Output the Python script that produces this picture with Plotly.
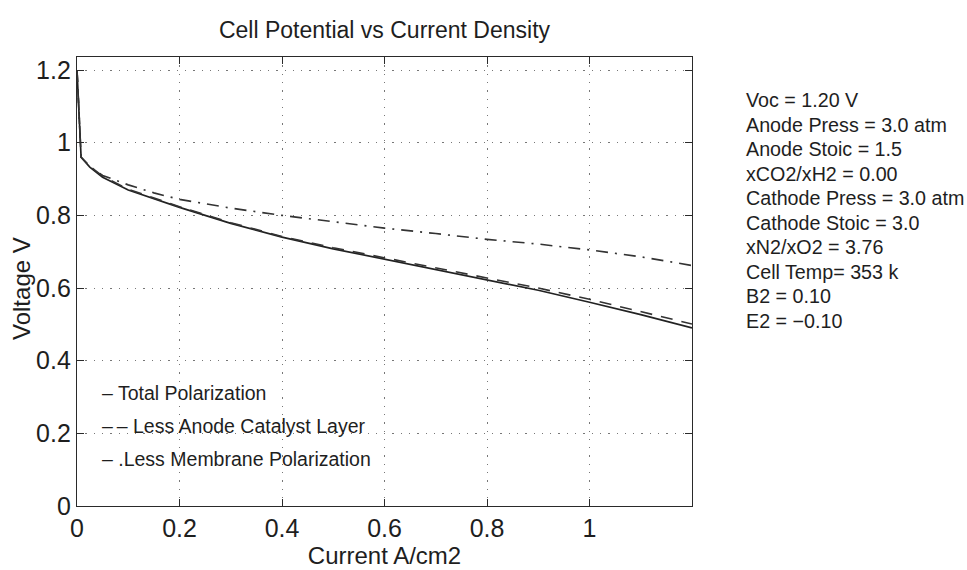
import plotly.graph_objects as go

# Polarization curves: cell voltage (V) against current density (A/cm2)
current = [0.0, 0.008, 0.025, 0.05, 0.1, 0.15, 0.2, 0.3, 0.4, 0.5,
           0.6, 0.7, 0.8, 0.9, 1.0, 1.1, 1.2]
total_polarization = [1.2, 0.96, 0.933, 0.905, 0.870, 0.845, 0.822, 0.778,
                      0.740, 0.708, 0.680, 0.652, 0.624, 0.594, 0.561, 0.527, 0.490]
less_anode_catalyst = [1.2, 0.96, 0.935, 0.908, 0.872, 0.847, 0.824, 0.780,
                       0.742, 0.711, 0.683, 0.656, 0.629, 0.600, 0.569, 0.536, 0.501]
less_membrane = [1.2, 0.96, 0.935, 0.910, 0.884, 0.862, 0.844, 0.820,
                 0.800, 0.782, 0.765, 0.750, 0.734, 0.721, 0.705, 0.686, 0.662]

x_ticks = [0, 0.2, 0.4, 0.6, 0.8, 1.0]
x_tick_labels = ["0", "0.2", "0.4", "0.6", "0.8", "1"]
y_ticks = [0, 0.2, 0.4, 0.6, 0.8, 1.0, 1.2]
y_tick_labels = ["0", "0.2", "0.4", "0.6", "0.8", "1", "1.2"]

legend_lines = ["\u2013 Total Polarization",
                "\u2013\u2009\u2013 Less Anode Catalyst Layer",
                "\u2013 .Less Membrane Polarization"]

parameters = ["Voc = 1.20 V", "Anode Press = 3.0 atm", "Anode Stoic = 1.5",
              "xCO2/xH2 = 0.00", "Cathode Press = 3.0 atm", "Cathode Stoic = 3.0",
              "xN2/xO2 = 3.76", "Cell Temp= 353 k", "B2 = 0.10", "E2 = \u22120.10"]

FONT = "Liberation Sans, Arial, sans-serif"
INK = "#1e1e1e"

W, H = 967, 570
L, R, T, B = 77, 275, 57, 64
pw, ph = W - L - R, H - T - B

fig = go.Figure()
fig.add_trace(go.Scatter(x=current, y=total_polarization, mode="lines",
                         line=dict(color="#222222", width=1.7),
                         name="Total Polarization", showlegend=False))
fig.add_trace(go.Scatter(x=current, y=less_anode_catalyst, mode="lines",
                         line=dict(color="#333333", width=1.6, dash="12px,9px"),
                         name="Less Anode Catalyst Layer", showlegend=False))
fig.add_trace(go.Scatter(x=current, y=less_membrane, mode="lines",
                         line=dict(color="#333333", width=1.6, dash="12px,7px,2px,7px"),
                         name="Less Membrane Polarization", showlegend=False))

axis_common = dict(
    showline=True, linecolor="#2a2a2a", linewidth=1.4, mirror="ticks",
    ticks="inside", ticklen=7, tickcolor="#2a2a2a", tickwidth=1.3,
    showgrid=True, gridcolor="#777777", griddash="1.3px,7px", gridwidth=1.3,
    zeroline=False, tickfont=dict(family=FONT, size=25, color=INK),
)

fig.update_xaxes(range=[0, 1.2], tickvals=x_ticks, ticktext=x_tick_labels,
                 title=dict(text="Current A/cm2", font=dict(family=FONT, size=24, color=INK),
                            standoff=0),
                 **axis_common)
fig.update_yaxes(range=[0, 1.236], tickvals=y_ticks, ticktext=y_tick_labels,
                 **axis_common)

# Vertical axis title, placed close to the tick labels
fig.add_annotation(x=(21 - L) / pw, y=1 - (288 - T) / ph, xref="paper", yref="paper",
                   text="Voltage V", textangle=-90, showarrow=False,
                   xanchor="center", yanchor="middle",
                   font=dict(family=FONT, size=24, color=INK))

# Curve key written inside the axes
for i, txt in enumerate(legend_lines):
    fig.add_annotation(x=0.045, y=0.31 - i * 0.09, xref="x", yref="y",
                       text=txt, showarrow=False, xanchor="left", yanchor="middle",
                       font=dict(family=FONT, size=19.5, color=INK))

# Operating parameters listed beside the axes (pixel rows mapped to paper units)
for i, txt in enumerate(parameters):
    px, py = 744, 100 + i * 24.5
    fig.add_annotation(x=(px - L) / pw, y=1 - (py - T) / ph, xref="paper", yref="paper",
                       text=txt, showarrow=False, xanchor="left", yanchor="middle",
                       font=dict(family=FONT, size=19.7, color=INK))

fig.update_layout(
    width=W, height=H,
    margin=dict(l=L, r=R, t=T, b=B),
    paper_bgcolor="white", plot_bgcolor="white",
    title=dict(text="Cell Potential vs Current Density", x=(L + pw / 2) / W, xanchor="center",
               y=1 - 30 / H, yanchor="middle",
               font=dict(family=FONT, size=23, color=INK)),
    font=dict(family=FONT, color=INK),
)

fig.write_html("out.html")
